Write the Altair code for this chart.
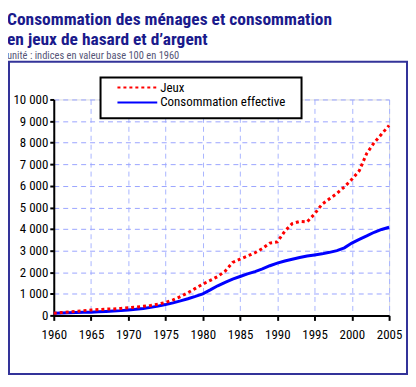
import altair as alt
import pandas as pd

years = list(range(1960, 2006))
jeux = [100, 130, 160, 190, 220, 250, 270, 290, 300, 320,
        350, 380, 420, 460, 520, 600, 720, 870, 1050, 1250,
        1450, 1620, 1800, 2050, 2450, 2600, 2750, 2900, 3100, 3350,
        3400, 3900, 4250, 4350, 4330, 4700, 5150, 5400, 5650, 5950,
        6300, 6700, 7500, 8000, 8400, 8800]
conso = [100, 110, 120, 130, 140, 150, 165, 180, 200, 220,
         250, 280, 320, 370, 430, 500, 580, 670, 770, 880,
         1000, 1180, 1370, 1530, 1680, 1800, 1920, 2030, 2150, 2300,
         2420, 2520, 2600, 2680, 2750, 2800, 2850, 2920, 3000, 3130,
         3350, 3520, 3680, 3850, 3980, 4080]
series = ["Jeux", "Consommation effective"]
x_ticks = list(range(1960, 2006, 5))
y_ticks = list(range(0, 10001, 1000))
title1 = "Consommation des ménages et consommation"
title2 = "en jeux de hasard et d\u2019argent"
subtitle = "unité : indices en valeur base 100 en 1960"

df = pd.DataFrame({
    "annee": years * 2,
    "valeur": jeux + conso,
    "serie": [series[0]] * len(years) + [series[1]] * len(years),
})

W, H = 337, 217
FONT = "Roboto Condensed"
RED = "#ff0000"
BLUE = "#0000ff"
NAVY = "#1a1a8c"

xenc = alt.X("annee:Q", scale=alt.Scale(domain=[1960, 2005], nice=False, zero=False),
             axis=alt.Axis(values=x_ticks, format="d", title=None, labelPadding=8,
                           labelFontSize=13, labelFont=FONT, labelColor="black",
                           domainColor="black", domainWidth=2, tickColor="black",
                           tickWidth=2, tickSize=5, grid=True, gridColor="#a8b4ff",
                           gridDash=[5, 4], gridWidth=1, labelFlush=False))
yenc = alt.Y("valeur:Q", scale=alt.Scale(domain=[0, 10000], nice=False),
             axis=alt.Axis(values=y_ticks, title=None,
                           labelExpr="replace(format(datum.value, ','), ',', ' ')",
                           labelPadding=2, labelFontSize=13, labelFont=FONT,
                           labelColor="black", domainColor="black", domainWidth=2,
                           tickColor="black", tickWidth=2, tickSize=4, grid=True,
                           gridColor="#9aa4ff", gridDash=[5, 4], gridWidth=1))

base = alt.Chart(df)
line_jeux = base.transform_filter(alt.datum.serie == series[0]).mark_line(
    color=RED, strokeWidth=3, strokeDash=[3, 3]).encode(x=xenc, y=yenc)
line_conso = base.transform_filter(alt.datum.serie == series[1]).mark_line(
    color=BLUE, strokeWidth=3).encode(x=xenc, y=yenc)

one = alt.Data(values=[{}])

frame = alt.Chart(one).mark_rect(filled=False, color="#333399", strokeWidth=2).encode(
    x=alt.value(-45), x2=alt.value(355), y=alt.value(-38), y2=alt.value(276))

def txt(t, x, y, size, color, weight="normal", baseline="alphabetic", font=FONT):
    return alt.Chart(one).mark_text(align="left", baseline=baseline, font=font,
                                    fontSize=size, fontWeight=weight, color=color).encode(
        x=alt.value(x), y=alt.value(y), text=alt.value(t))

t1 = txt(title1, -47, -75, 17.5, NAVY, "bold")
t2 = txt(title2, -47, -55, 17.5, NAVY, "bold")
st = txt(subtitle, -47, -41, 10.5, "#555577")

leg_box = alt.Chart(one).mark_rect(fill="white", stroke="black", strokeWidth=2).encode(
    x=alt.value(47), x2=alt.value(249), y=alt.value(-22), y2=alt.value(19))
leg_r1 = alt.Chart(one).mark_rule(color=RED, strokeWidth=2, strokeDash=[3, 3]).encode(
    x=alt.value(64), x2=alt.value(104), y=alt.value(-12))
leg_r2 = alt.Chart(one).mark_rule(color=BLUE, strokeWidth=2).encode(
    x=alt.value(64), x2=alt.value(104), y=alt.value(3))
leg_t1 = txt(series[0], 107, -12, 13, "black", baseline="middle")
leg_t2 = txt(series[1], 107, 3, 13, "black", baseline="middle")

chart = alt.layer(frame, line_conso, line_jeux, leg_box, leg_r1, leg_r2, leg_t1, leg_t2,
                  t1, t2, st).properties(
    width=W, height=H,
    padding={"left": 46, "top": 91, "right": 19, "bottom": 60},
    autosize=alt.AutoSizeParams(type="none"),
).configure_view(stroke=None).configure(background="white")

chart.save("out.html", embed_options={"renderer": "svg", "actions": False})
